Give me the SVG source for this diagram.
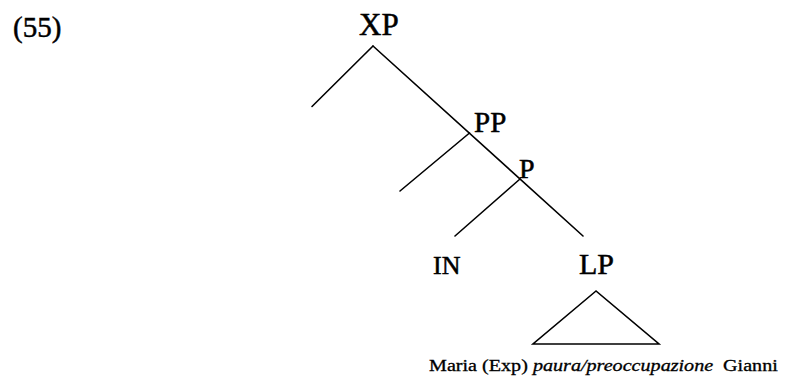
<svg xmlns="http://www.w3.org/2000/svg" width="800" height="379" viewBox="0 0 800 379">
<style>
text{font-family:"Liberation Serif","Times New Roman",serif;fill:#000;stroke:#000;stroke-width:0.5}
.l{stroke:#000;stroke-width:1.6;fill:none;stroke-linecap:round}
</style>
<rect width="800" height="379" fill="#fff"/>
<text x="13" y="37" font-size="29">(55)</text>
<g id="connectors">
<line class="l" x1="373" y1="46" x2="312" y2="106.5"/>
<line class="l" x1="373" y1="46" x2="583" y2="236"/>
<line class="l" x1="469.5" y1="133" x2="400" y2="191"/>
<line class="l" x1="520" y1="179" x2="455" y2="236"/>
<polygon class="l" points="596,291 533,344 659,344" stroke-linejoin="miter"/>
</g>
<g id="XP"><text x="359" y="35" font-size="31">XP</text></g>
<g id="PP"><text x="474" y="132" font-size="29">PP</text></g>
<g id="P"><text x="519" y="178" font-size="28">P</text></g>
<g id="IN"><text x="433" y="274" font-size="26">IN</text></g>
<g id="LP"><text x="579" y="274" font-size="30">LP</text></g>
<g id="terminal"><text transform="translate(429,371) scale(1.22,1)" font-size="16.5" style="stroke-width:0.3">Maria (Exp) <tspan font-style="italic">paura/preoccupazione</tspan><tspan dx="4"> Gianni</tspan></text></g>
</svg>
